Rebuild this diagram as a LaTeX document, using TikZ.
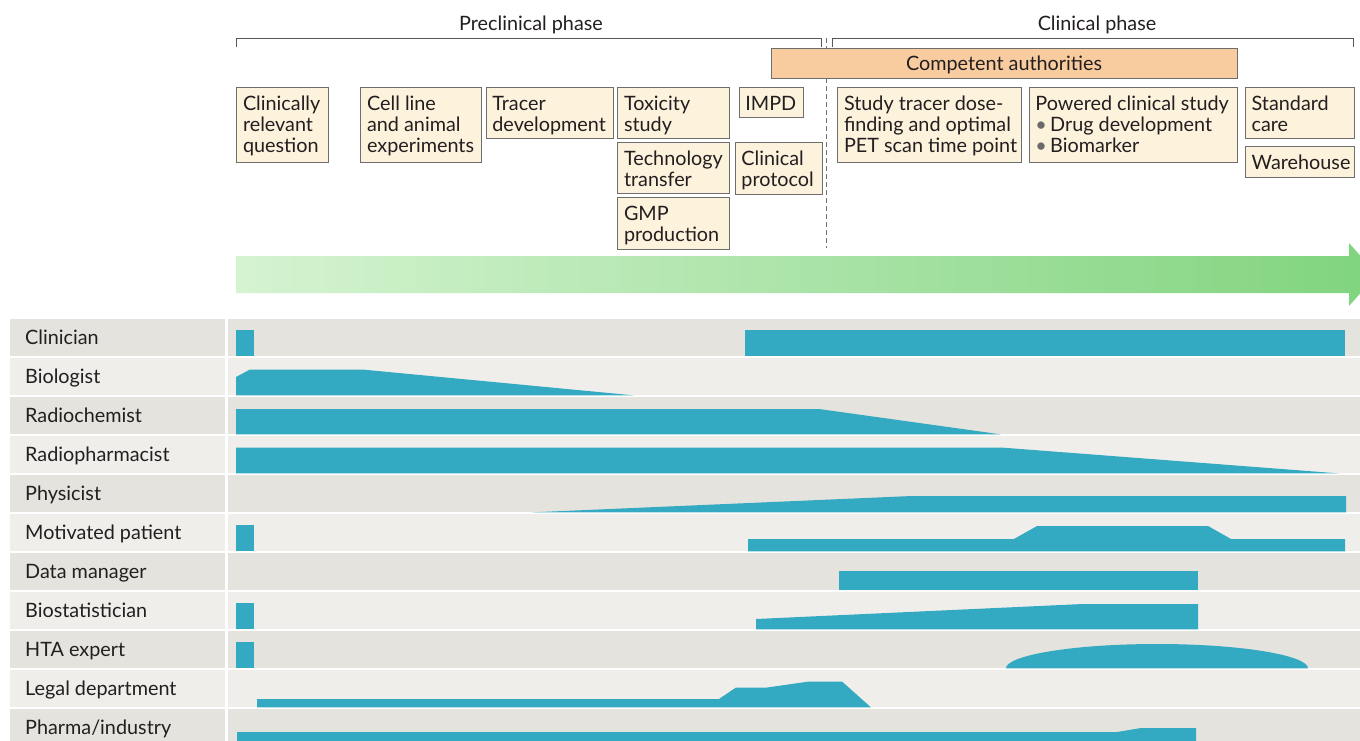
\documentclass[tikz,border=0pt]{standalone}
\usepackage{fontspec}
\setmainfont{Lato}
\definecolor{ink}{HTML}{231F20}
\definecolor{cardfill}{HTML}{FDF3DD}
\definecolor{cardline}{HTML}{6E6E6E}
\definecolor{authfill}{HTML}{F9CCA0}
\definecolor{rowdark}{HTML}{E4E3DE}
\definecolor{rowlight}{HTML}{EFEEEA}
\definecolor{tealbar}{HTML}{33AAC2}
\definecolor{arrowL}{HTML}{D5F3D1}
\definecolor{arrowR}{HTML}{80D47E}
\definecolor{dashgray}{HTML}{707070}
\definecolor{bulletgray}{HTML}{6A6A6A}
\newcommand\boxfont{\fontsize{19.8}{21}\selectfont}
\newcommand\lines[1]{\begin{tabular}[t]{@{}l@{}}#1\end{tabular}}
\begin{document}
\begin{tikzpicture}[x=1pt,y=-1pt,
  card/.style={draw=cardline, fill=cardfill, line width=0.9pt, anchor=north west, inner sep=0pt},
  cardtext/.style={anchor=base west, inner sep=0pt, font=\boxfont, text=ink},
  rowlabel/.style={anchor=base west, inner sep=0pt, font=\boxfont, text=ink},
  phase/.style={anchor=base, inner sep=0pt, font=\boxfont, text=ink},
  bracket/.style={draw=ink!75, line width=0.9pt},
  bar/.style={fill=tealbar},
]
\useasboundingbox (0,0) rectangle (1360,741);
\fill[white] (0,0) rectangle (1360,741);

% phases
\node[phase] (pre) at (531,30.5) {Preclinical phase};
\node[phase] (cli) at (1097,30.5) {Clinical phase};
\draw[bracket] (236,47) -- (236,38) -- (821,38) -- (821,47);
\draw[bracket] (832,47) -- (832,38) -- (1353,38) -- (1353,47);
\draw[dashgray, line width=1.1pt, dash pattern=on 5pt off 3pt] (826.5,38) -- (826.5,248);

% competent authorities
\node[draw=cardline, fill=authfill, line width=0.9pt, anchor=north west, inner sep=0pt,
      minimum width=465.8pt, minimum height=30.6pt, text height=16pt, text depth=2pt,
      font=\boxfont, text=ink] (auth) at (770.7,47.7) {Competent authorities};

% cards
\newcommand\card[6]{%
  \node[card, minimum width=#4pt, minimum height=#5pt] (#1) at (#2,#3) {};
  \node[cardtext] (#1t) at ([xshift=6.5pt,yshift=-23.5pt]#1.north west) {\lines{#6}};
}
\card{q}{236.3}{87.3}{91.7}{74.7}{Clinically\\relevant\\question}
\card{cell}{360.4}{87.3}{120.6}{74.7}{Cell line\\and animal\\experiments}
\card{tracer}{485.7}{87.3}{126.9}{50.6}{Tracer\\development}
\card{tox}{617.3}{87.3}{111.7}{50.6}{Toxicity\\study}
\card{tech}{617.3}{142.3}{111.7}{51}{Technology\\transfer}
\card{gmp}{617.3}{197.3}{111.7}{51.3}{GMP\\production}
\card{impd}{738.7}{87.3}{64.3}{29.9}{IMPD}
\card{prot}{734.7}{142.3}{87}{51.7}{Clinical\\protocol}
\card{study}{837.3}{87.3}{183.3}{74.7}{Study tracer dose-\\finding and optimal\\PET scan time point}
\card{powered}{1028.7}{87.3}{208}{74.7}{Powered clinical study\\{\color{bulletgray}\textbullet}\,Drug development\\{\color{bulletgray}\textbullet}\,Biomarker}
\card{std}{1244.9}{87.3}{109.4}{50.6}{Standard\\care}
\card{ware}{1244.9}{145.7}{109.4}{31}{Warehouse}

% arrow
\shade[left color=arrowL, right color=arrowR]
  (236,256) -- (1349,256) -- (1349,243) -- (1377,274.5) -- (1349,306) -- (1349,293) -- (236,293) -- cycle;

% rows
\foreach \lab [count=\i from 0] in {Clinician, Biologist, Radiochemist, Radiopharmacist, Physicist, Motivated patient, Data manager, Biostatistician, HTA expert, Legal department, Pharma/industry} {
  \pgfmathsetmacro\rtop{319+39*\i}
  \pgfmathtruncatemacro\rodd{mod(\i,2)}
  \ifnum\rodd=0 \def\rc{rowdark}\else\def\rc{rowlight}\fi
  \fill[\rc] (10,\rtop) rectangle (224.5,\rtop+37.4);
  \fill[\rc] (227.5,\rtop) rectangle (1360,\rtop+37.4);
  \node[rowlabel] (r\i) at (25,\rtop+25) {\lab};
}

% bars
\fill[bar] (236,329.5) rectangle (254,356.4);
\fill[bar] (745,329.5) rectangle (1345,356.4);
\fill[bar] (236,395.4) -- (236,377) -- (250,369.5) -- (362,369.5) -- (634,395.4) -- cycle;
\fill[bar] (236,434.4) -- (236,409) -- (819,409) -- (1001,434.4) -- cycle;
\fill[bar] (236,473.4) -- (236,447.5) -- (1001,447.5) -- (1339,473.4) -- cycle;
\fill[bar] (531,512.4) -- (912,496) -- (1346,496) -- (1346,512.4) -- cycle;
\fill[bar] (236,524.5) rectangle (254,551.4);
\fill[bar] (748,551.4) -- (748,539) -- (1014,539) -- (1037,526) -- (1208,526) -- (1231,539) -- (1345,539) -- (1345,551.4) -- cycle;
\fill[bar] (839,571) rectangle (1198,590.4);
\fill[bar] (236,602.5) rectangle (254,629.4);
\fill[bar] (756,629.4) -- (756,619) -- (1083,604) -- (1198,604) -- (1198,629.4) -- cycle;
\fill[bar] (236,641.5) rectangle (254,668.4);
\fill[bar] (1006,668.4) .. controls (1006,655.2) and (1073.6,644) .. (1157,644)
  .. controls (1240.4,644) and (1308,655.2) .. (1308,668.4) -- cycle;
\fill[bar] (257,707.4) -- (257,699) -- (719,699) -- (736,687.5) -- (767,687.5) -- (809,681.5) -- (842,681.5) -- (871,707.4) -- cycle;
\fill[bar] (237,745) -- (237,732) -- (1117,732) -- (1141,728) -- (1196,728) -- (1196,745) -- cycle;
\end{tikzpicture}
\end{document}
